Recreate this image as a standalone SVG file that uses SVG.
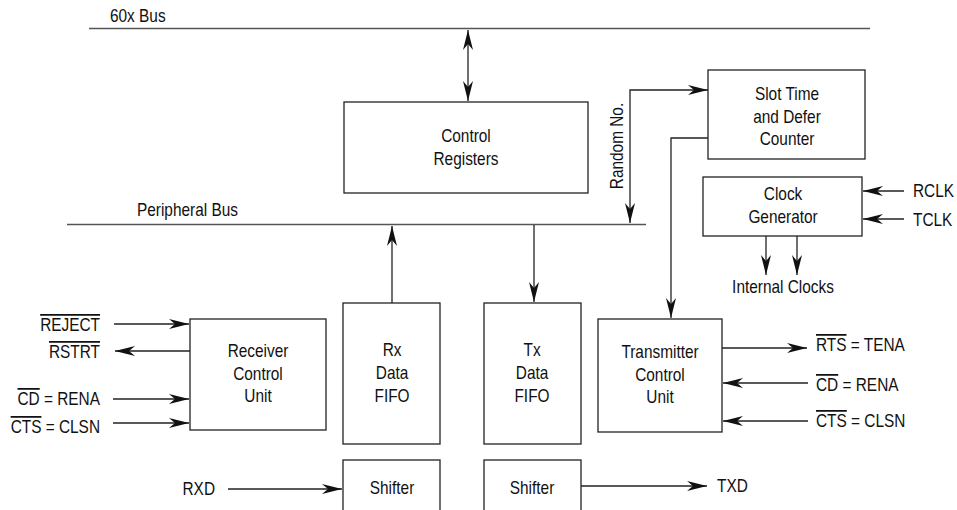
<svg xmlns="http://www.w3.org/2000/svg" width="957" height="510" viewBox="0 0 957 510">
  <defs>
    <style>
      .box { fill: #fff; stroke: #222; stroke-width: 1.3; }
      .bus { fill: none; stroke: #555; stroke-width: 1.6; }
      .wire { fill: none; stroke: #222; stroke-width: 1.3; }
      .arr { marker-end: url(#head); }
      .both { marker-start: url(#head); marker-end: url(#head); }
      /* narrow sans: regular face squeezed horizontally around its own box */
      text { font-family: "Liberation Sans", Arial, sans-serif; font-size: 17.5px; fill: #111;
             transform: scaleX(0.88); transform-box: fill-box; transform-origin: left center; }
      .c { text-anchor: middle; transform-origin: center center; }
      .r { text-anchor: end; transform-origin: right center; }
      .ov { text-decoration: overline; }
    </style>
    <marker id="head" markerUnits="userSpaceOnUse" markerWidth="20" markerHeight="11" refX="20" refY="5.5" orient="auto-start-reverse">
      <path d="M0,0.5 L20,5.5 L0,10.5 L6,5.5 Z" fill="#111"/>
    </marker>
  </defs>

  <rect width="957" height="510" fill="#fff"/>

  <!-- buses -->
  <g id="buses">
    <path class="bus" d="M89,28.5 H870"/>
    <text x="110" y="22">60x Bus</text>
    <path class="bus" d="M67,224.5 H646"/>
    <text x="137" y="216">Peripheral Bus</text>
  </g>

  <!-- connectors -->
  <g id="connectors">
    <path class="wire both" d="M468,30 V101"/>
    <path class="wire both" d="M630,223 V90 H708"/>
    <path class="wire arr" d="M708,138 H671 V318"/>
    <path class="wire arr" d="M392,303 V226"/>
    <path class="wire arr" d="M534,225 V302"/>
    <path class="wire arr" d="M766,236 V275"/>
    <path class="wire arr" d="M797,236 V275"/>
    <path class="wire arr" d="M904,191 H863"/>
    <path class="wire arr" d="M904,219 H863"/>
    <path class="wire arr" d="M114,324 H189"/>
    <path class="wire arr" d="M190,351 H115"/>
    <path class="wire arr" d="M113,399 H189"/>
    <path class="wire arr" d="M113,423 H189"/>
    <path class="wire arr" d="M228,489 H342"/>
    <path class="wire arr" d="M581,486 H707"/>
    <path class="wire arr" d="M722,348 H807"/>
    <path class="wire arr" d="M808,383 H723"/>
    <path class="wire arr" d="M808,421 H723"/>
  </g>

  <g id="control-registers">
    <rect class="box" x="344" y="102" width="244" height="91"/>
    <text class="c" x="466" y="142">Control</text>
    <text class="c" x="466" y="165">Registers</text>
  </g>

  <g id="slot-time-counter">
    <rect class="box" x="708" y="70" width="157" height="89"/>
    <text class="c" x="787" y="100">Slot Time</text>
    <text class="c" x="787" y="123">and Defer</text>
    <text class="c" x="787" y="145">Counter</text>
  </g>

  <g id="random-no-label" transform="translate(623,146) rotate(-90)">
    <text class="c" x="0" y="0">Random No.</text>
  </g>

  <g id="clock-generator">
    <rect class="box" x="703" y="177" width="159" height="59"/>
    <text class="c" x="783" y="200">Clock</text>
    <text class="c" x="783" y="223">Generator</text>
    <text x="913" y="197">RCLK</text>
    <text x="913" y="226">TCLK</text>
    <text class="c" x="783" y="293">Internal Clocks</text>
  </g>

  <g id="receiver-control-unit">
    <rect class="box" x="190" y="319" width="136" height="111"/>
    <text class="c" x="258" y="357">Receiver</text>
    <text class="c" x="258" y="380">Control</text>
    <text class="c" x="258" y="402">Unit</text>
    <text class="r" x="100" y="331"><tspan class="ov">REJECT</tspan></text>
    <text class="r" x="100" y="358"><tspan class="ov">RSTRT</tspan></text>
    <text class="r" x="100" y="405"><tspan class="ov">CD</tspan> = RENA</text>
    <text class="r" x="100" y="433"><tspan class="ov">CTS</tspan> = CLSN</text>
  </g>

  <g id="rx-data-fifo">
    <rect class="box" x="343" y="303" width="97" height="141"/>
    <text class="c" x="392" y="356">Rx</text>
    <text class="c" x="392" y="379">Data</text>
    <text class="c" x="392" y="402">FIFO</text>
  </g>

  <g id="tx-data-fifo">
    <rect class="box" x="484" y="303" width="97" height="141"/>
    <text class="c" x="532" y="356">Tx</text>
    <text class="c" x="532" y="379">Data</text>
    <text class="c" x="532" y="402">FIFO</text>
  </g>

  <g id="rx-shifter">
    <rect class="box" x="343" y="460" width="97" height="60"/>
    <text class="c" x="392" y="494">Shifter</text>
    <text class="r" x="215" y="495">RXD</text>
  </g>

  <g id="tx-shifter">
    <rect class="box" x="484" y="460" width="97" height="60"/>
    <text class="c" x="532" y="494">Shifter</text>
    <text x="717" y="492">TXD</text>
  </g>

  <g id="transmitter-control-unit">
    <rect class="box" x="598" y="319" width="124" height="113"/>
    <text class="c" x="660" y="358">Transmitter</text>
    <text class="c" x="660" y="381">Control</text>
    <text class="c" x="660" y="403">Unit</text>
    <text x="816" y="351"><tspan class="ov">RTS</tspan> = TENA</text>
    <text x="816" y="391"><tspan class="ov">CD</tspan> = RENA</text>
    <text x="816" y="427"><tspan class="ov">CTS</tspan> = CLSN</text>
  </g>
</svg>
